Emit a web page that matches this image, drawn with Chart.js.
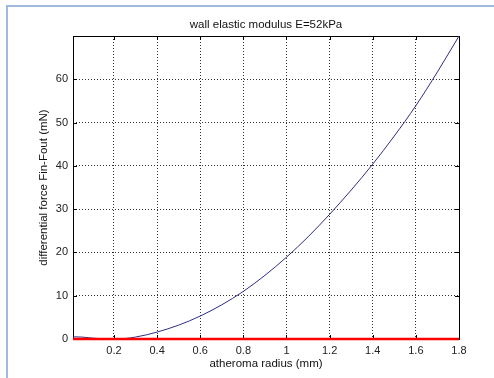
<!DOCTYPE html>
<html>
<head>
<meta charset="utf-8">
<script src="https://cdn.jsdelivr.net/npm/chart.js@4/dist/chart.umd.min.js"></script>
<style>
  html, body { margin: 0; padding: 0; background: #fff; }
  #wrap { position: relative; width: 494px; height: 378px; }
  #edge { position: absolute; left: 6px; top: 5px; right: 0; bottom: 0;
          border-left: 2px solid #a0badd; border-top: 2px solid #a0badd; pointer-events: none; }
</style>
</head>
<body>
<div id="wrap">
  <canvas id="c" width="494" height="378"></canvas>
  <div id="edge"></div>
</div>
<script>
// atheroma radius (mm)
const radius = [0.01, 0.05, 0.1, 0.15, 0.2, 0.25, 0.3, 0.35, 0.4, 0.5, 0.6, 0.7, 0.8, 0.9,
                1.0, 1.1, 1.2, 1.3, 1.4, 1.5, 1.6, 1.7, 1.8];
// differential force Fin-Fout (mN)
const diffForce = [0.5, 0.45, 0.2, 0.05, 0.0, 0.1, 0.45, 0.95, 1.6, 3.2, 5.3, 7.9, 11.0, 14.7,
                   18.9, 23.6, 28.8, 34.4, 40.4, 46.9, 53.9, 61.7, 70.0];
// zero-force reference line
const baseRadius = [0.01, 1.8];
const baseForce = [0, 0];

const xTicks = [0.2, 0.4, 0.6, 0.8, 1, 1.2, 1.4, 1.6, 1.8];
const yTicks = [0, 10, 20, 30, 40, 50, 60];

const FONT = 'Arial, "Liberation Sans", sans-serif';

// axes box with inward tick marks on all four sides
const axesBox = {
  id: 'axesBox',
  beforeDatasetsDraw(chart) {
    const { ctx, chartArea: a, scales: { x, y } } = chart;
    ctx.save();
    ctx.strokeStyle = '#000';
    ctx.lineWidth = 1;
    ctx.beginPath();
    const L = 4;
    xTicks.forEach(v => {
      const px = Math.round(x.getPixelForValue(v)) + 0.5;
      ctx.moveTo(px, a.bottom); ctx.lineTo(px, a.bottom - L);
      ctx.moveTo(px, a.top); ctx.lineTo(px, a.top + L);
    });
    yTicks.forEach(v => {
      const py = Math.round(y.getPixelForValue(v)) + 0.5;
      ctx.moveTo(a.left, py); ctx.lineTo(a.left + L, py);
      ctx.moveTo(a.right, py); ctx.lineTo(a.right - L, py);
    });
    ctx.stroke();
    ctx.strokeRect(Math.round(a.left) + 0.5, Math.round(a.top) + 0.5,
                   Math.round(a.right - a.left), Math.round(a.bottom - a.top));
    ctx.restore();
  }
};

const toPoints = (xs, ys) => xs.map((v, i) => ({ x: v, y: ys[i] }));

new Chart(document.getElementById('c'), {
  type: 'line',
  data: {
    datasets: [
      {
        data: toPoints(baseRadius, baseForce),
        borderColor: '#ff0000',
        borderWidth: 2.5,
        pointRadius: 0,
        clip: false
      },
      {
        data: toPoints(radius, diffForce),
        borderColor: '#2e2e82',
        borderWidth: 1,
        pointRadius: 0,
        cubicInterpolationMode: 'monotone',
        clip: false
      }
    ]
  },
  options: {
    responsive: false,
    animation: false,
    layout: { padding: { left: 0, right: 35, top: 0, bottom: 0 } },
    plugins: {
      legend: { display: false },
      tooltip: { enabled: false },
      title: {
        display: true,
        text: 'wall elastic modulus E=52kPa',
        color: '#111',
        font: { family: FONT, size: 11.5, weight: 'normal' },
        padding: { top: 17.6, bottom: 4.6 },
        fullSize: false
      }
    },
    scales: {
      x: {
        type: 'linear',
        min: 0.01,
        max: 1.8,
        afterBuildTicks: s => { s.ticks = xTicks.map(v => ({ value: v })); },
        afterFit: s => { s.height = 39; },
        grid: { color: 'rgba(0,0,0,0.8)', lineWidth: 1, drawTicks: false, borderDash: [1, 2] },
        border: { display: false, dash: [1, 2] },
        ticks: {
          color: '#222', padding: 5, maxRotation: 0, autoSkip: false,
          font: { family: FONT, size: 11 },
          callback: v => String(v)
        },
        title: {
          display: true, text: 'atheroma radius (mm)', color: '#111',
          font: { family: FONT, size: 11.5 }, padding: { top: 0, bottom: 7.1 }
        }
      },
      y: {
        type: 'linear',
        min: 0,
        max: 70,
        afterBuildTicks: s => { s.ticks = yTicks.map(v => ({ value: v })); },
        afterFit: s => { s.width = 73; },
        grid: { color: 'rgba(0,0,0,0.8)', lineWidth: 1, drawTicks: false, borderDash: [1, 2] },
        border: { display: false, dash: [1, 2] },
        ticks: {
          color: '#222', padding: 5, autoSkip: false,
          font: { family: FONT, size: 11 },
          callback: v => String(v)
        },
        title: {
          display: true, text: 'differential force Fin-Fout (mN)', color: '#111',
          font: { family: FONT, size: 11.5 }, padding: { top: 37, bottom: 0 }
        }
      }
    }
  },
  plugins: [axesBox]
});
</script>
</body>
</html>
